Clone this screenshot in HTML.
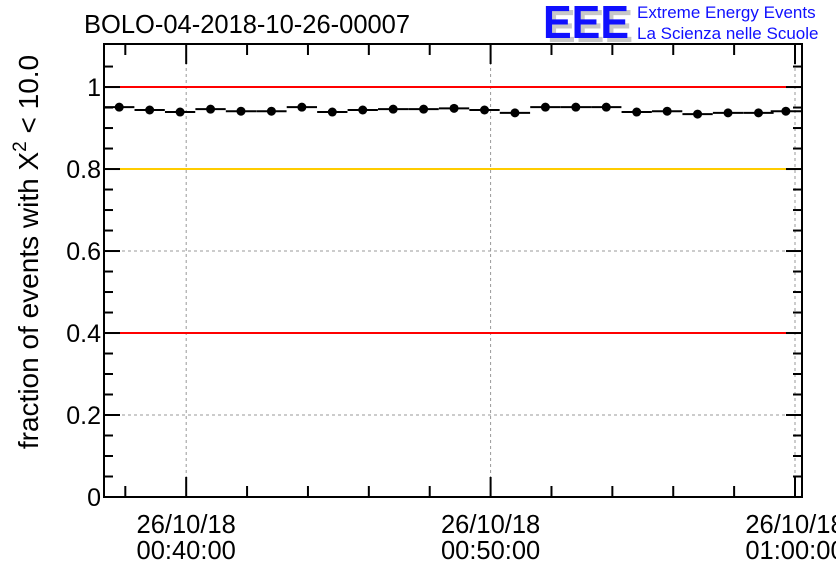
<!DOCTYPE html>
<html><head><meta charset="utf-8"><style>
body{margin:0;background:#fff;}
svg{display:block;font-family:"Liberation Sans",sans-serif;}
</style></head><body>
<svg id="chart" width="836" height="572">
<text x="84" y="33" font-size="25.5">BOLO-04-2018-10-26-00007</text>
<g>
<text x="547" y="42" font-size="46" font-weight="bold" fill="#c8c8c8" textLength="86" lengthAdjust="spacingAndGlyphs">EEE</text>
<text x="543" y="38" font-size="46" font-weight="bold" fill="#1010ff" textLength="86" lengthAdjust="spacingAndGlyphs">EEE</text>
<text x="637" y="18" font-size="17" fill="#1010ff">Extreme Energy Events</text>
<text x="637" y="39" font-size="17" fill="#1010ff">La Scienza nelle Scuole</text>
</g>
<text transform="translate(38,252) rotate(-90)" text-anchor="middle" font-size="28">fraction of events with X<tspan dy="-12" font-size="19">2</tspan><tspan dy="12"> &lt; 10.0</tspan></text>
<g id="grid"></g><g id="refs"></g><g id="marks"></g><g id="axes"></g>
</svg>
<script>
const times=[37.8,38.8,39.8,40.8,41.8,42.8,43.8,44.8,45.8,46.8,47.8,48.8,49.8,50.8,51.8,52.8,53.8,54.8,55.8,56.8,57.8,58.8,59.7];
const values=[0.951,0.944,0.939,0.946,0.941,0.941,0.951,0.939,0.944,0.946,0.946,0.948,0.944,0.937,0.951,0.951,0.951,0.939,0.941,0.934,0.937,0.937,0.941];
const refLines=[1.0,0.8,0.4];
const refColors=['#ff0000','#ffcc00','#ff0000'];
const yTicks=[0,0.2,0.4,0.6,0.8,1];
const yTickLabels=['0','0.2','0.4','0.6','0.8','1'];
const xTicks=[40,50,60];
const xTickLabels=[['26/10/18','00:40:00'],['26/10/18','00:50:00'],['26/10/18','01:00:00']];
const L=104,R=802,T=44,B=497,X0=37.3,X1=60.23,Y0=0,Y1=1.105;
const sx=t=>L+(t-X0)/(X1-X0)*(R-L);
const sy=v=>B-(v-Y0)/(Y1-Y0)*(B-T);
const NS='http://www.w3.org/2000/svg';
function mk(tag,attrs,parent){const e=document.createElementNS(NS,tag);for(const k in attrs)e.setAttribute(k,attrs[k]);document.getElementById(parent).appendChild(e);return e;}
yTicks.forEach(v=>{if(v>0&&v<1&&!refLines.includes(v)){const g=mk('line',{x1:L,x2:R,y1:sy(v),y2:sy(v),stroke:'#999','stroke-dasharray':'3,3'},'grid');

}});
xTicks.forEach(t=>{const g=mk('line',{x1:sx(t),x2:sx(t),y1:T,y2:B,stroke:'#999','stroke-dasharray':'3,3'},'grid');

});
refLines.forEach((v,i)=>{const l=mk('line',{x1:L,x2:R,y1:sy(v),y2:sy(v),stroke:refColors[i],'stroke-width':2},'refs');

});
const step=times.length>1?(times[times.length-1]-times[0])/(times.length-1):1;
times.forEach((t,i)=>{
const b=mk('line',{x1:sx(t-step/2),x2:sx(t+step/2),y1:sy(values[i]),y2:sy(values[i]),stroke:'#000','stroke-width':2},'marks');


const c=mk('circle',{cx:sx(t),cy:sy(values[i]),r:4.5,fill:'#000'},'marks');


});
const f=mk('rect',{x:L,y:T,width:R-L,height:B-T,fill:'none',stroke:'#000','stroke-width':2},'axes');


for(let v=0;v<=1.1;v+=0.05){const vv=Math.round(v*100)/100;const major=yTicks.includes(vv);const len=major?16:9;
mk('line',{x1:L,x2:L+len,y1:sy(vv),y2:sy(vv),stroke:'#000','stroke-width':2},'axes');
mk('line',{x1:R-len,x2:R,y1:sy(vv),y2:sy(vv),stroke:'#000','stroke-width':2},'axes');}
yTicks.forEach((v,i)=>{const t=mk('text',{x:L-3,y:sy(v)+9,'text-anchor':'end','font-size':25},'axes');t.textContent=yTickLabels[i];

});
for(let t=38;t<=60;t+=2){const major=xTicks.includes(t);const len=major?20:11;
mk('line',{x1:sx(t),x2:sx(t),y1:B-len,y2:B,stroke:'#000','stroke-width':2},'axes');
mk('line',{x1:sx(t),x2:sx(t),y1:T,y2:T+len,stroke:'#000','stroke-width':2},'axes');}
xTicks.forEach((t,i)=>{const x=sx(t);
const a=mk('text',{x:x,y:533,'text-anchor':'middle','font-size':25.5},'axes');a.textContent=xTickLabels[i][0];


const b=mk('text',{x:x,y:559,'text-anchor':'middle','font-size':25.5},'axes');b.textContent=xTickLabels[i][1];

});
</script>
</body></html>
